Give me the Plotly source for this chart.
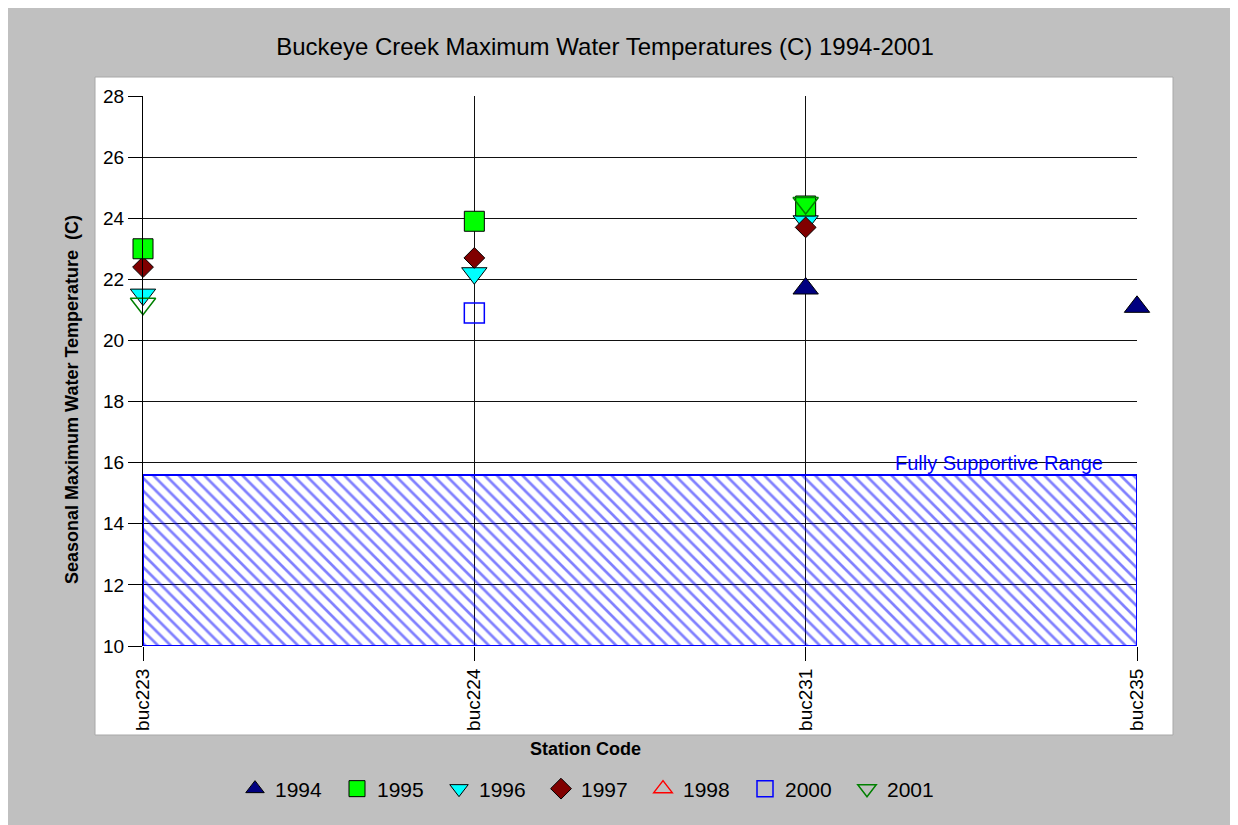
import plotly.graph_objects as go

# ---- data ----
stations = ["buc223", "buc224", "buc231", "buc235"]
years = ["1994", "1995", "1996", "1997", "1998", "2000", "2001"]
t1994 = [None, None, 21.7, 21.1]
t1995 = [23.0, 23.9, 24.4, None]
t1996 = [21.5, 22.2, 23.9, None]
t1997 = [22.4, 22.7, 23.7, None]
t1998 = [None, None, None, None]
t2000 = [None, 20.9, None, None]
t2001 = [21.2, None, 24.5, None]
range_low = 10
range_high = 15.6
range_label = "Fully Supportive Range"
y_ticks = [10, 12, 14, 16, 18, 20, 22, 24, 26, 28]

values = {"1994": t1994, "1995": t1995, "1996": t1996, "1997": t1997,
          "1998": t1998, "2000": t2000, "2001": t2001}

styles = {
    "1994": dict(symbol="triangle-up", size=22, color="#000080", line=dict(color="#000000", width=1)),
    "1995": dict(symbol="square", size=20, color="#00FF00", line=dict(color="#000000", width=1)),
    "1996": dict(symbol="triangle-down", size=22, color="#00FFFF", line=dict(color="#000000", width=1)),
    "1997": dict(symbol="diamond", size=16, color="#800000", line=dict(color="#000000", width=1)),
    "1998": dict(symbol="triangle-up-open", size=22, color="#FF0000", line=dict(color="#FF0000", width=1.5)),
    "2000": dict(symbol="square-open", size=20, color="#0000FF", line=dict(color="#0000FF", width=1.5)),
    "2001": dict(symbol="triangle-down-open", size=22, color="#008000", line=dict(color="#008000", width=1.5)),
}
draw_order = ["1994", "1996", "1997", "1995", "1998", "2000", "2001"]

OFF = 8  # page body margin
W, H = 1238, 825
L, R, T, B = 135, 109, 88, 187
PW, PH = W - L - R, H - T - B


def px(x):
    return (x - OFF - L) / PW


def py(y):
    return (H - B - (y - OFF)) / PH


fig = go.Figure()

# hatched range
fig.add_trace(go.Scatter(
    x=[stations[0], stations[-1], stations[-1], stations[0], stations[0]],
    y=[range_low, range_low, range_high, range_high, range_low],
    mode="lines", fill="toself", fillcolor="rgba(0,0,0,0)",
    fillpattern=dict(shape="\\", fgcolor="#0000FF", bgcolor="rgba(0,0,0,0)", size=9, solidity=0.3),
    line=dict(color="#0000FF", width=2), showlegend=False, hoverinfo="skip",
    cliponaxis=False))

for yr in draw_order:
    s = styles[yr]
    fig.add_trace(go.Scatter(
        x=stations, y=values[yr], mode="markers", name=yr,
        legendrank=1000 + years.index(yr), cliponaxis=False,
        marker=dict(symbol=s["symbol"], size=s["size"], color=s["color"], line=s["line"]),
    ))

shapes = [
    dict(type="rect", xref="paper", yref="paper", x0=px(8), x1=px(1260), y0=py(850), y1=py(8),
         fillcolor="#C0C0C0", line=dict(width=0), layer="below"),
    dict(type="rect", xref="paper", yref="paper", x0=px(95), x1=px(1173), y0=py(735), y1=py(77),
         fillcolor="#FFFFFF", line=dict(color="#A8A8A8", width=1), layer="below"),
]

fig.update_layout(
    width=W, height=H,
    margin=dict(l=L, r=R, t=T, b=B),
    paper_bgcolor="#FFFFFF", plot_bgcolor="#FFFFFF",
    font=dict(family="Arial, Liberation Sans, sans-serif", color="#000000"),
    shapes=shapes,
    title=dict(text="Buckeye Creek Maximum Water Temperatures (C) 1994-2001",
               x=px(605), xref="paper", xanchor="center",
               y=1 - (47 - OFF) / H, yref="container", yanchor="middle",
               font=dict(size=24, color="#000000")),
    xaxis=dict(type="category", categoryorder="array", categoryarray=stations,
               range=[0, len(stations) - 1], showgrid=True, gridcolor="#111111", gridwidth=1,
               ticks="outside", ticklen=14, tickcolor="#000000", tickangle=-90,
               tickfont=dict(size=19), showline=False, zeroline=False),
    yaxis=dict(range=[y_ticks[0], y_ticks[-1]], tickvals=y_ticks, showgrid=True,
               gridcolor="#111111", gridwidth=1, ticks="outside", ticklen=14,
               tickcolor="#000000", tickfont=dict(size=19), showline=True,
               linecolor="#000000", linewidth=1, zeroline=False),
    legend=dict(orientation="h", x=px(592), xanchor="center", y=py(789), yanchor="middle",
                bgcolor="rgba(0,0,0,0)", font=dict(size=21), entrywidth=57,
                entrywidthmode="pixels", itemsizing="trace"),
    annotations=[
        dict(text="Seasonal Maximum Water Temperature  (C)", xref="paper", yref="paper",
             x=px(60), y=py(400), textangle=-90, showarrow=False,
             font=dict(size=18, color="#000000", weight="bold")),
        dict(text="Station Code", xref="paper", yref="paper", x=px(585), y=py(761),
             showarrow=False, font=dict(size=18, color="#000000", weight="bold")),
        dict(text=range_label, xref="x", yref="y", x=2.903, y=16, xanchor="right", yanchor="middle",
             showarrow=False, font=dict(size=20, color="#0000FF")),
    ],
)

fig.write_html("out.html")
